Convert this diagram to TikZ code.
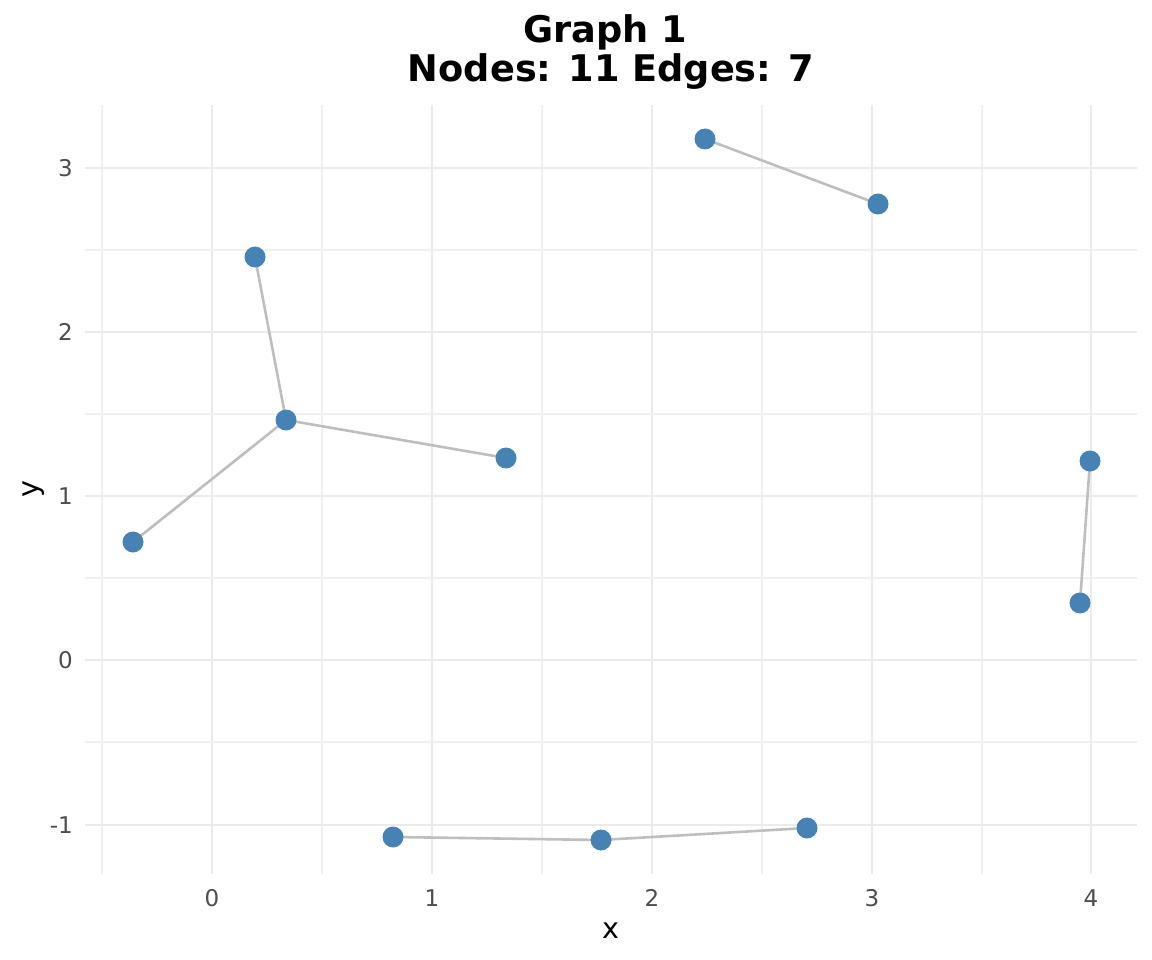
\documentclass[tikz,border=0pt]{standalone}
\usepackage{fontspec}
\setmainfont{DejaVu Sans}
\definecolor{steel}{HTML}{4682B4}
\definecolor{edgegray}{HTML}{BEBEBE}
\definecolor{gridmaj}{HTML}{EBEBEB}
\definecolor{ticktext}{HTML}{4D4D4D}
\pgfdeclarelayer{bg}
\pgfsetlayers{bg,main}
\tikzset{
  vtx/.style={circle, fill=steel, draw=none, minimum size=21pt, inner sep=0pt},
  edg/.style={draw=edgegray, line width=2.6pt},
  majgrid/.style={draw=gridmaj, line width=2.5pt},
  mingrid/.style={draw=gridmaj!75, line width=1.3pt},
  ticklab/.style={text=ticktext, font=\fontsize{23}{27}\selectfont, inner sep=0pt},
  axlab/.style={text=black, font=\fontsize{28.6}{33}\selectfont, inner sep=0pt},
  titlab/.style={anchor=base, inner sep=0pt, font=\bfseries\fontsize{36.7}{42}\selectfont},
}
\begin{document}
\begin{tikzpicture}[x=1pt, y=-1pt]
\useasboundingbox (0,0) rectangle (1152,960);
\begin{pgfonlayer}{bg}
% minor grid
\foreach \x in {102,322,542,762,982} \draw[mingrid] (\x,105) -- (\x,874);
\foreach \y in {250,414,578,742} \draw[mingrid] (85,\y) -- (1137,\y);
% major grid
\foreach \x in {212,432,652,872,1091} \draw[majgrid] (\x,105) -- (\x,874);
\foreach \y in {168,332,496,660,825} \draw[majgrid] (85,\y) -- (1137,\y);
\end{pgfonlayer}
% tick labels
\node[ticklab, anchor=base] (tx0) at (212,906) {0};
\node[ticklab, anchor=base] (tx1) at (432,906) {1};
\node[ticklab, anchor=base] (tx2) at (652,906) {2};
\node[ticklab, anchor=base] (tx3) at (872,906) {3};
\node[ticklab, anchor=base] (tx4) at (1091,906) {4};
\node[ticklab, anchor=east] (ty3) at (73,168) {3};
\node[ticklab, anchor=east] (ty2) at (73,332) {2};
\node[ticklab, anchor=east] (ty1) at (73,496) {1};
\node[ticklab, anchor=east] (ty0) at (73,660) {0};
\node[ticklab, anchor=east] (tym) at (73,825) {-1};
% axis titles
\node[axlab, anchor=base] (xlab) at (611,938) {x};
\node[axlab, rotate=90, anchor=base] (ylab) at (38,489) {y};
% title
\node[titlab] (t1) at (605,43) {Graph 1};
\node[titlab] (t2) at (611,82) {Nodes: 11 Edges: 7};
% nodes
\node[vtx] (a) at (255,257) {};
\node[vtx] (b) at (286,420) {};
\node[vtx] (c) at (133,542) {};
\node[vtx] (d) at (506,458) {};
\node[vtx] (e) at (705,139) {};
\node[vtx] (f) at (878,204) {};
\node[vtx] (g) at (1090,461) {};
\node[vtx] (h) at (1080,603) {};
\node[vtx] (i) at (393,837) {};
\node[vtx] (j) at (601,840) {};
\node[vtx] (k) at (807,828) {};
% edges
\begin{pgfonlayer}{bg}
\draw[edg] (a.center) -- (b.center);
\draw[edg] (b.center) -- (c.center);
\draw[edg] (b.center) -- (d.center);
\draw[edg] (e.center) -- (f.center);
\draw[edg] (g.center) -- (h.center);
\draw[edg] (i.center) -- (j.center);
\draw[edg] (j.center) -- (k.center);
\end{pgfonlayer}
\end{tikzpicture}
\end{document}
